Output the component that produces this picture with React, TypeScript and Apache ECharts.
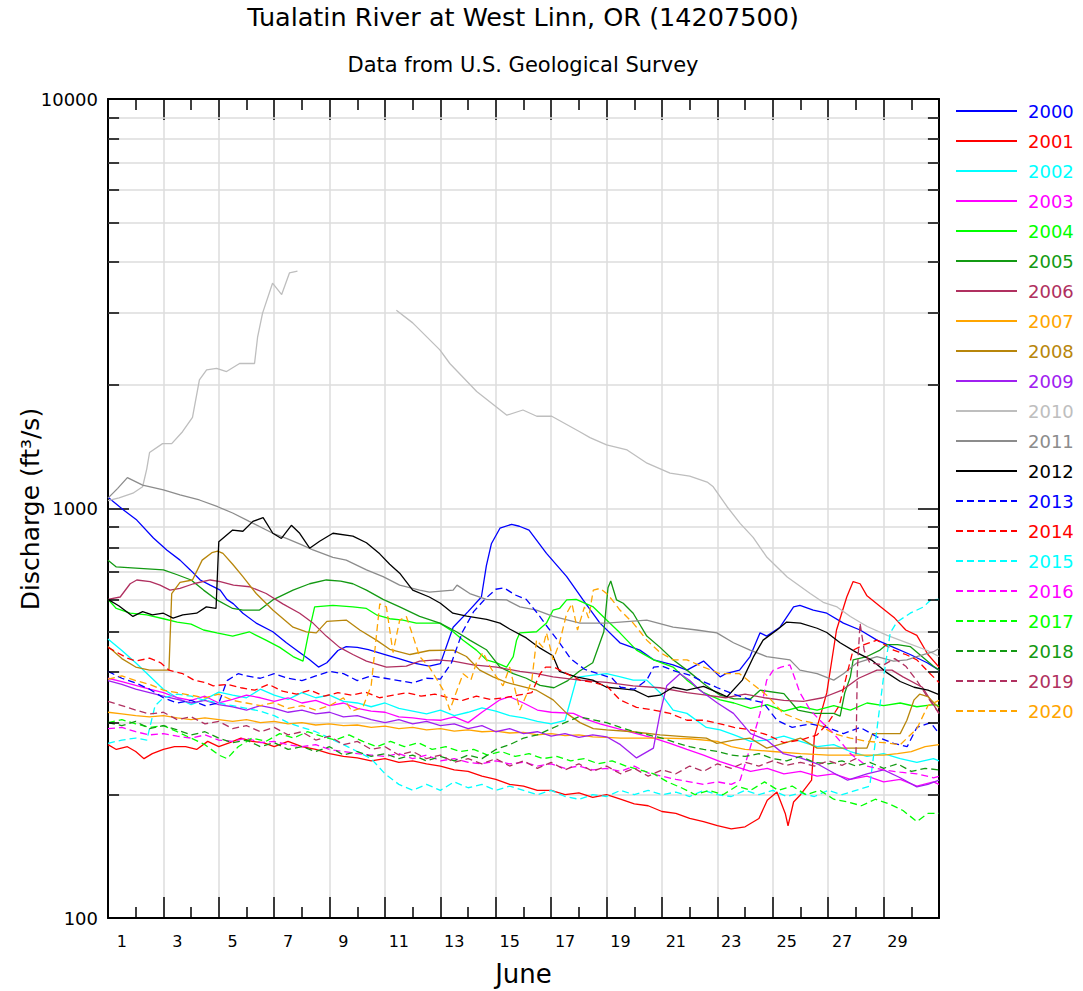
import React, { useEffect, useRef } from 'react';
import * as echarts from 'echarts';

const YEARS = ['2000','2001','2002','2003','2004','2005','2006','2007','2008','2009','2010','2011','2012','2013','2014','2015','2016','2017','2018','2019','2020'];
const COLORS = ['#0000ff','#ff0000','#00ffff','#ff00ff','#00ff00','#139a13','#b03060','#ffa500','#b8860b','#a020f0','#bebebe','#8c8c8c','#000000','#0000ff','#ff0000','#00ffff','#ff00ff','#00ff00','#139a13','#b03060','#ffa500'];
const DAY_LABELS = ['1','2','3','4','5','6','7','8','9','10','11','12','13','14','15','16','17','18','19','20','21','22','23','24','25','26','27','28','29','30'];
const MINOR_GRID = [200,300,400,500,600,700,800,900,2000,3000,4000,5000,6000,7000,8000,9000];

// [days since June 1 00:00, discharge ft3/s]
const q2000 = [[0,1065],[0.56,992],[1.04,937],[1.64,847],[2.12,792],[2.6,748],[2.97,708],[3.33,669],[3.69,650],[4.05,632],[4.29,600],[4.53,585],[4.87,555],[5.35,525],[5.95,500],[6.44,470],[6.92,445],[7.28,427],[7.6,410],[7.9,420],[8.3,450],[8.6,460],[9.0,458],[9.4,452],[10.0,440],[10.5,430],[11.0,420],[11.6,412],[12.0,418],[12.46,513],[13.0,560],[13.48,608],[13.66,725],[13.84,820],[14.15,895],[14.57,915],[14.85,905],[15.2,886],[15.83,777],[16.56,682],[17.15,598],[17.76,525],[18.48,470],[19.2,451],[19.7,427],[20.4,415],[20.9,403],[21.5,424],[22.1,388],[22.3,395],[22.8,403],[23.18,435],[23.54,497],[23.78,488],[24.26,513],[24.75,575],[24.98,580],[25.46,565],[25.95,555],[26.55,525],[27.15,505],[27.76,477],[28.36,458],[28.96,440],[29.57,420],[30,403]];
const q2001 = [[0,265],[0.3,258],[0.7,262],[1.0,255],[1.3,245],[1.6,252],[2,258],[2.4,262],[2.8,262],[3.2,258],[3.6,270],[4,262],[4.4,268],[4.8,275],[5.2,270],[5.6,268],[6,262],[6.5,270],[7,262],[7.5,258],[8,252],[8.5,248],[9,246],[9.5,242],[10,245],[10.5,240],[11,242],[11.5,238],[12,235],[12.5,230],[13,228],[13.5,222],[14,218],[14.5,212],[15,210],[15.5,205],[16,205],[16.5,200],[17,202],[17.5,197],[18,200],[18.5,195],[19,190],[19.5,188],[20,182],[20.5,180],[21,175],[21.5,172],[22,168],[22.5,165],[23,167],[23.5,175],[23.8,194],[24.15,203],[24.45,180],[24.55,168],[24.75,192],[25,200],[25.4,217],[25.5,277],[25.95,355],[26.3,505],[26.67,608],[26.9,663],[27.15,655],[27.4,612],[27.9,575],[28.4,540],[28.8,505],[29.2,490],[29.6,440],[30,410]];
const q2002 = [[0,480],[0.5,450],[1,420],[1.5,390],[2,362],[2.5,345],[3,332],[3.5,342],[4,356],[4.5,350],[5,345],[5.5,362],[6,350],[6.5,342],[7,355],[7.5,345],[8,350],[8.5,338],[9,335],[9.5,328],[10,335],[10.5,325],[11,320],[11.5,315],[12,322],[12.5,312],[13,318],[13.5,326],[14,320],[14.5,312],[15,308],[15.5,302],[16,298],[16.5,304],[16.75,350],[16.9,381],[17.04,388],[17.5,392],[18,395],[18.5,388],[18.96,381],[19.45,381],[19.93,355],[20.4,322],[20.9,316],[21.6,292],[22.1,288],[22.6,280],[23.2,270],[23.8,272],[24.4,278],[25,270],[25.6,262],[26.2,265],[26.8,255],[27.4,248],[28,252],[28.6,245],[29.2,240],[29.8,245],[30,242]];
const q2003 = [[0,385],[0.5,378],[1,370],[1.5,362],[2,355],[2.5,345],[3,340],[3.5,348],[4,335],[4.5,342],[5,350],[5.5,345],[6,338],[6.5,345],[7,335],[7.5,340],[8,330],[8.5,335],[9,325],[9.5,320],[10,318],[10.5,310],[11,308],[11.5,305],[12,304],[12.5,310],[13,300],[13.5,318],[14.15,341],[14.5,347],[15,335],[15.5,322],[16,318],[16.8,316],[17.3,305],[17.76,298],[18.4,290],[19.08,282],[19.7,275],[20.29,267],[20.9,258],[21.5,250],[22.1,241],[22.6,235],[23.2,228],[23.8,232],[24.4,225],[25,228],[25.6,222],[26.2,225],[26.8,218],[27.4,222],[28,215],[28.6,218],[29.2,210],[29.8,215],[30,212]];
const q2004 = [[0,600],[0.3,570],[0.8,555],[1.4,550],[2,538],[2.5,528],[3,522],[3.45,505],[3.93,497],[4.5,488],[5.1,500],[5.7,477],[6.2,458],[6.68,435],[7.04,424],[7.22,488],[7.46,575],[8.12,580],[8.84,575],[9.33,570],[9.69,550],[10.17,538],[10.65,534],[11.13,525],[11.6,525],[11.98,525],[12.46,500],[12.82,477],[13.3,451],[13.66,427],[14.03,420],[14.39,410],[14.63,435],[14.75,477],[14.87,497],[15.47,500],[15.83,525],[16.07,565],[16.3,570],[16.56,598],[16.9,600],[17.52,575],[18,534],[18.48,497],[19.08,451],[19.7,427],[20.4,410],[20.9,381],[21.5,355],[22.1,341],[22.6,335],[23.2,325],[23.8,332],[24.4,320],[25,328],[25.6,322],[26.2,330],[26.8,322],[27.4,335],[28,330],[28.6,335],[29.2,328],[29.8,332],[30,330]];
const q2005 = [[0,748],[0.3,720],[1,715],[2,708],[2.5,689],[3,669],[3.45,632],[3.93,598],[4.5,570],[4.87,565],[5.47,565],[5.95,598],[6.68,632],[7.28,655],[7.88,669],[8.4,665],[8.84,655],[9.33,632],[9.93,600],[10.53,575],[11.25,545],[11.98,525],[12.58,500],[13.06,477],[13.66,452],[14.15,410],[14.63,395],[15.1,385],[15.6,370],[16.1,365],[16.6,380],[17.0,400],[17.5,420],[17.9,500],[18.05,640],[18.15,665],[18.36,598],[18.6,587],[18.96,555],[19.45,488],[19.93,458],[20.4,427],[20.9,403],[21.6,369],[22.1,350],[22.6,343],[23.2,343],[23.54,360],[24.4,353],[24.9,322],[25.5,316],[26.2,316],[26.43,311],[26.6,355],[26.8,388],[26.9,427],[27.4,435],[27.87,451],[28.1,465],[28.5,465],[28.96,460],[29.3,440],[29.8,412],[30,403]];
const q2006 = [[0,600],[0.44,608],[0.8,655],[1.04,669],[1.52,663],[1.88,650],[2.24,632],[2.6,638],[3.09,655],[3.69,669],[4.05,663],[4.53,650],[5.11,644],[5.71,620],[6.31,585],[6.92,555],[7.4,525],[7.88,488],[8.36,458],[8.84,440],[9.33,424],[10.05,410],[10.77,412],[11.25,424],[11.86,427],[12.46,424],[13.18,415],[14.03,410],[14.87,400],[15.47,395],[16.07,388],[17.04,381],[18,376],[18.96,369],[19.93,365],[20.9,355],[21.6,350],[22.3,345],[23,352],[23.7,345],[24.4,340],[25.1,338],[25.8,345],[26.5,360],[27.1,385],[27.76,403],[28.3,403],[28.7,388],[29.4,366],[29.8,332],[30,316]];
const q2007 = [[0,318],[0.5,315],[1,312],[1.5,310],[2,312],[2.5,308],[3,305],[3.5,308],[4,305],[4.5,302],[5,305],[5.5,300],[6,302],[6.5,298],[7,300],[7.5,296],[8,298],[8.5,295],[9,296],[9.5,292],[10,294],[10.5,290],[11,292],[11.5,288],[12,290],[12.5,286],[13,288],[13.5,285],[14,286],[14.5,283],[15,284],[15.5,280],[16,282],[16.5,279],[17,280],[17.5,277],[18,276],[18.5,275],[19,275],[20,275],[21,274],[22,270],[22.5,262],[23,258],[24,255],[25,252],[26,250],[27,250],[28,250],[28.5,252],[29,255],[29.5,262],[30,265]];
const q2008 = [[0,460],[0.5,430],[1,410],[1.5,403],[2,403],[2.2,403],[2.3,620],[2.6,660],[3.05,669],[3.4,748],[3.75,780],[3.96,787],[4.15,777],[4.5,731],[4.87,682],[5.35,620],[5.95,565],[6.68,513],[7.16,500],[7.52,497],[7.9,530],[8.6,534],[9.09,505],[9.69,477],[10.17,453],[10.9,440],[11.6,450],[12.46,451],[12.94,435],[13.42,403],[13.9,388],[14.39,376],[14.87,369],[15.47,360],[16.07,341],[16.56,316],[17.04,300],[17.52,290],[18,288],[18.96,285],[19.93,280],[20.9,277],[21.6,275],[21.98,267],[22.6,272],[23.18,275],[23.78,260],[24.38,267],[25,275],[25.6,260],[26.18,260],[27.4,260],[27.6,282],[28.6,282],[28.84,304],[29.1,341],[29.3,352],[29.6,347],[30,326]];
const q2009 = [[0,380],[0.5,372],[1,362],[1.5,355],[2,348],[2.5,342],[3,335],[3.5,340],[4,332],[4.5,328],[5,322],[5.5,330],[6,325],[6.5,318],[7,322],[7.5,315],[8,318],[8.5,310],[9,312],[9.5,305],[10,300],[10.5,305],[11,298],[11.5,302],[12,295],[12.5,298],[13,290],[13.5,295],[14,285],[14.5,290],[15,282],[15.5,285],[16,278],[16.5,282],[17,276],[17.5,280],[18,277],[18.5,265],[19.08,246],[19.69,260],[19.93,316],[20.17,369],[20.65,395],[21,380],[21.37,360],[22,335],[22.58,316],[23.2,282],[23.78,272],[24.38,252],[25,246],[25.6,238],[26.2,226],[26.7,217],[27.4,225],[28,230],[28.6,220],[29.2,209],[29.6,212],[30,217]];
const q2010 = [[0,1045],[0.4,1062],[0.9,1090],[1.25,1130],[1.4,1250],[1.5,1370],[1.97,1440],[2.3,1440],[2.69,1540],[3.05,1670],[3.3,2060],[3.56,2180],[3.92,2200],[4.28,2160],[4.75,2260],[5.29,2260],[5.4,2620],[5.58,3000],[5.94,3550],[6.27,3330],[6.55,3760],[6.84,3800],[8.6,null],[10.41,3050],[11.0,2840],[11.98,2440],[12.34,2260],[13.31,1930],[14.4,1690],[14.98,1740],[15.48,1680],[16.02,1680],[17.03,1540],[17.4,1490],[18.0,1430],[18.74,1390],[19.46,1290],[20.29,1220],[21.0,1200],[21.63,1160],[21.85,1130],[22.35,1010],[22.82,920],[23.29,850],[23.79,760],[24.52,680],[25.35,620],[25.82,590],[26.32,575],[26.8,545],[27.41,515],[28.13,490],[28.85,470],[29.58,450],[30,435]];
const q2011 = [[0,1060],[0.35,1120],[0.7,1190],[1.25,1140],[2,1110],[2.6,1080],[3.3,1049],[3.96,1010],[4.5,975],[5.1,930],[5.95,870],[6.44,845],[7,815],[7.4,792],[8.12,760],[8.6,748],[9.33,708],[9.93,682],[10.53,650],[11.25,632],[11.6,625],[12.46,632],[12.6,650],[13.06,620],[13.66,600],[14.39,598],[14.87,575],[15.47,565],[16.07,545],[17.04,525],[18,525],[19.45,534],[20.4,513],[21.25,505],[21.98,497],[22.58,470],[23.18,451],[23.78,435],[24.62,427],[24.98,403],[25.6,395],[26.2,381],[26.55,395],[27.04,420],[27.76,435],[28.36,424],[28.84,427],[29.2,435],[29.8,447],[30,455]];
const q2012 = [[0,600],[0.4,578],[0.9,545],[1.25,560],[1.6,550],[2,555],[2.35,540],[2.7,550],[3.2,555],[3.55,575],[3.9,570],[4.0,830],[4.5,886],[4.87,880],[5.23,930],[5.6,950],[5.95,870],[6.26,845],[6.62,910],[6.92,870],[7.28,800],[7.64,832],[8.12,870],[8.84,856],[9.33,825],[9.81,775],[10.17,731],[10.53,695],[11.0,632],[11.6,608],[12,587],[12.45,555],[12.95,546],[13.67,536],[14.15,525],[14.5,508],[15.1,483],[15.6,456],[16.06,437],[16.3,400],[16.9,388],[17.5,381],[18,366],[18.5,363],[19,360],[19.5,347],[19.93,350],[20.4,366],[20.9,360],[21.5,368],[22.1,353],[22.35,347],[22.9,381],[23.3,434],[23.65,477],[24.15,505],[24.5,528],[25,525],[25.6,510],[25.95,498],[26.43,470],[27,446],[27.6,425],[28.1,398],[28.6,378],[29.1,366],[29.6,360],[30,351]];
const q2013 = [[0,400],[0.5,385],[1,375],[1.5,362],[2,345],[2.5,335],[3,340],[3.5,330],[4,335],[4.3,380],[4.7,395],[5,390],[5.5,385],[6,395],[6.5,385],[7,380],[7.5,390],[8,400],[8.5,395],[9,380],[9.5,390],[10,385],[10.5,380],[11,375],[11.5,385],[12,383],[12.4,420],[12.8,500],[13.2,560],[13.6,600],[14,635],[14.3,640],[14.7,615],[15.1,600],[15.5,555],[15.9,510],[16.3,470],[16.7,430],[17.2,405],[17.7,395],[18.2,385],[18.5,366],[19,362],[19.45,381],[19.7,410],[20,412],[20.5,400],[21,392],[21.37,381],[22,365],[22.6,352],[23.2,341],[23.65,336],[24.15,304],[24.7,292],[25.35,298],[25.96,292],[26.55,282],[27.15,292],[27.76,277],[28.36,267],[28.85,262],[29.2,292],[29.7,300],[30,282]];
const q2014 = [[0,458],[0.7,431],[1.0,424],[1.5,431],[1.9,420],[2.2,403],[2.7,395],[3.1,381],[3.5,376],[3.8,369],[4.3,372],[4.8,365],[5.3,360],[5.8,372],[6.3,358],[6.8,352],[7.3,360],[7.8,348],[8.3,355],[8.8,350],[9.3,356],[9.8,345],[10.3,350],[10.8,355],[11.3,348],[11.8,352],[12.3,345],[12.8,340],[13.3,348],[13.8,342],[14.3,345],[14.8,350],[15.3,355],[15.6,395],[15.8,410],[16.1,410],[16.56,395],[17.04,381],[17.52,376],[18,369],[18.48,341],[19.08,327],[19.69,322],[20.29,316],[20.9,304],[21.5,304],[22.1,298],[22.6,292],[23.2,288],[23.8,280],[24.4,268],[25,272],[25.6,280],[26.0,300],[26.4,330],[26.7,400],[26.9,451],[27.3,465],[27.76,477],[28.36,451],[28.8,440],[29.2,427],[29.6,400],[30,376]];
const q2015 = [[0,267],[0.5,272],[1,275],[1.4,272],[1.7,330],[2,345],[2.5,352],[3,348],[3.5,340],[4,335],[4.5,330],[5,325],[5.5,320],[6,312],[6.5,300],[7,292],[7.5,285],[8,275],[8.5,265],[9,255],[9.5,245],[10,225],[10.5,212],[11,205],[11.5,212],[12,205],[12.5,215],[13,208],[13.5,212],[14,205],[14.5,210],[15,205],[15.5,200],[16,205],[16.5,198],[17,195],[17.5,200],[18,198],[18.5,205],[19,200],[19.5,205],[20,200],[20.5,203],[21,198],[21.5,205],[22,200],[22.5,198],[23,205],[23.5,200],[24,205],[24.5,198],[25,202],[25.5,198],[26,205],[26.5,200],[27,205],[27.5,210],[27.8,304],[28,388],[28.24,497],[28.48,528],[28.96,555],[29.44,575],[29.7,598],[30,600]];
const q2016 = [[0,290],[0.5,292],[1,285],[1.5,280],[2,282],[2.5,278],[3,275],[3.5,280],[4,272],[4.5,270],[5,275],[5.5,268],[6,270],[6.5,265],[7,262],[7.5,265],[8,258],[8.5,255],[9,252],[9.5,250],[10,248],[10.5,252],[11,245],[11.5,250],[12,242],[12.5,245],[13,240],[13.5,238],[14,242],[14.5,238],[15,240],[15.5,235],[16,238],[16.5,232],[17,235],[17.5,230],[18,232],[18.5,228],[19,235],[19.5,226],[20,222],[20.5,218],[21,215],[21.5,212],[22,215],[22.5,212],[22.82,217],[23.18,260],[23.54,316],[23.78,381],[24.02,403],[24.3,410],[24.62,415],[24.98,355],[25.35,322],[25.7,304],[26.2,282],[26.8,252],[27.4,235],[28,230],[28.6,227],[29.2,225],[29.8,220],[30,222]];
const q2017 = [[0,300],[0.5,305],[1,298],[1.5,292],[2,295],[2.5,285],[3,275],[3.5,265],[4,250],[4.3,245],[4.7,262],[5.2,275],[5.7,270],[6.2,282],[6.7,275],[7.2,285],[7.7,278],[8.2,272],[8.7,280],[9.2,270],[9.7,262],[10.2,270],[10.7,262],[11.2,268],[11.7,258],[12.2,262],[12.7,255],[13.2,258],[13.7,250],[14.2,255],[14.7,248],[15.2,252],[15.7,245],[16.2,248],[16.7,242],[17.2,245],[17.7,238],[18.2,242],[18.7,235],[19.2,230],[19.7,225],[20.2,215],[20.7,208],[21.2,200],[21.7,205],[22.2,200],[22.7,210],[23.2,205],[23.7,215],[24.2,205],[24.7,210],[25.2,200],[25.7,205],[26.2,195],[26.7,192],[27.2,188],[27.7,195],[28.2,190],[28.7,183],[29.2,172],[29.6,180],[30,180]];
const q2018 = [[0,300],[0.5,295],[1,302],[1.5,290],[2,295],[2.5,288],[3,280],[3.5,285],[4,275],[4.5,268],[5,272],[5.5,262],[6,268],[6.5,258],[7,262],[7.5,255],[8,262],[8.5,250],[9,255],[9.5,248],[10,252],[10.5,245],[11,250],[11.5,242],[12,248],[12.5,242],[13,250],[13.5,245],[14,258],[14.5,265],[15,275],[15.5,280],[16,290],[16.5,300],[17,310],[17.5,305],[18,300],[18.5,292],[19,285],[19.5,280],[20,275],[20.5,268],[21,262],[21.5,258],[22,255],[22.5,250],[23,248],[23.5,252],[24,245],[24.5,242],[25,248],[25.5,240],[26,238],[26.5,242],[27,235],[27.5,240],[28,232],[28.5,238],[29,228],[29.5,232],[30,230]];
const q2019 = [[0,338],[0.5,330],[1,322],[1.5,315],[2,318],[2.5,305],[3,310],[3.5,298],[4,302],[4.5,290],[5,295],[5.5,285],[6,292],[6.5,280],[7,285],[7.5,272],[8,278],[8.5,265],[9,270],[9.5,258],[10,262],[10.5,250],[11,255],[11.5,245],[12,250],[12.5,240],[13,245],[13.5,238],[14,245],[14.5,235],[15,242],[15.5,232],[16,240],[16.5,230],[17,238],[17.5,228],[18,235],[18.5,225],[19,232],[19.5,222],[20,230],[20.5,225],[21,235],[21.5,228],[22,238],[22.5,232],[23,240],[23.5,235],[24,242],[24.5,236],[25,240],[25.5,235],[26,242],[26.5,236],[27,245],[27.05,400],[27.15,525],[27.3,450],[27.5,420],[28,415],[28.4,430],[28.8,412],[29.2,380],[29.6,345],[30,316]];
const q2020 = [[0,383],[0.5,390],[1,380],[1.5,372],[2,360],[2.5,355],[3,350],[3.5,345],[4,352],[4.5,340],[5,335],[5.5,330],[6,336],[6.5,325],[7,330],[7.5,322],[8,330],[8.5,345],[8.8,320],[9.2,327],[9.5,369],[9.81,585],[10.05,575],[10.29,445],[10.53,534],[10.77,545],[11.01,488],[11.25,435],[11.6,410],[11.9,380],[12.1,360],[12.34,322],[12.6,360],[12.82,395],[13.1,381],[13.3,420],[13.54,445],[13.8,410],[14.0,390],[14.26,369],[14.5,410],[14.7,360],[14.87,322],[15.1,350],[15.3,381],[15.47,477],[15.7,458],[15.83,497],[16.07,427],[16.3,470],[16.56,555],[16.75,585],[16.95,505],[17.2,575],[17.35,540],[17.52,632],[17.76,638],[18,620],[18.2,598],[18.48,565],[18.96,525],[19.45,477],[19.93,445],[20.4,427],[20.9,427],[21.5,410],[22.1,395],[22.8,395],[23.2,376],[23.78,350],[24.38,316],[25,304],[25.6,298],[26.2,282],[26.8,275],[27.4,270],[28,268],[28.6,265],[29.2,290],[29.6,330],[30,340]];

const SERIES_DATA = [q2000,q2001,q2002,q2003,q2004,q2005,q2006,q2007,q2008,q2009,q2010,q2011,q2012,q2013,q2014,q2015,q2016,q2017,q2018,q2019,q2020];

const FONT = 'DejaVu Sans';
const GRID_COLOR = '#dcdcdc';
const TICK_D = 0.4;

export default function App() {
  const ref = useRef<HTMLDivElement>(null);
  useEffect(() => {
    if (!ref.current) return;
    const chart = echarts.init(ref.current, null, { renderer: 'svg' });
    const axisLine = { show: true, onZero: false, lineStyle: { color: '#000', width: 2 } };
    const majorTick = { show: true, inside: true, length: 21, lineStyle: { color: '#000', width: 1.5 } };
    const minorTick = { show: true, splitNumber: 2, length: 11, lineStyle: { color: '#000', width: 1.5 } };
    const dataSeries = YEARS.map((y, i) => ({
      name: y,
      type: 'line',
      data: SERIES_DATA[i],
      xAxisIndex: 0,
      yAxisIndex: 0,
      symbol: 'none',
      showSymbol: false,
      connectNulls: false,
      silent: true,
      z: 3,
      lineStyle: { color: COLORS[i], width: 1.3, type: i >= 13 ? [7, 4] : 'solid' },
      itemStyle: { color: COLORS[i] },
      emphasis: { disabled: true },
    }));
    const option = {
      animation: false,
      backgroundColor: '#ffffff',
      textStyle: { fontFamily: FONT, color: '#000' },
      title: [
        { text: 'Tualatin River at West Linn, OR (14207500)', left: 523, top: 4, padding: 0, textAlign: 'center',
          textStyle: { fontSize: 25.5, fontWeight: 'normal', color: '#000', fontFamily: FONT } },
        { text: 'Data from U.S. Geological Survey', left: 523, top: 54, padding: 0, textAlign: 'center',
          textStyle: { fontSize: 21, fontWeight: 'normal', color: '#000', fontFamily: FONT } },
      ],
      legend: {
        orient: 'vertical', left: 950, top: 97, itemWidth: 61, itemHeight: 14, itemGap: 12,
        selectedMode: false,
        itemStyle: { opacity: 0 },
        textStyle: { fontSize: 18, fontFamily: FONT, padding: [0, 0, 0, 6] },
        data: YEARS.map((y, i) => ({ name: y, textStyle: { color: COLORS[i] } })),
      },
      grid: { left: 108, top: 99, width: 831, height: 819, containLabel: false, outerBoundsMode: 'none' },
      xAxis: [
        { type: 'value', min: 0, max: 30, interval: 2, position: 'bottom',
          axisLine, axisTick: majorTick, minorTick, axisLabel: { show: false },
          splitLine: { show: true, lineStyle: { color: GRID_COLOR, width: 1.5 } },
          name: 'June', nameLocation: 'middle', nameGap: 43,
          nameTextStyle: { fontSize: 26, color: '#000', fontFamily: FONT } },
        { type: 'value', min: 0, max: 30, interval: 2, position: 'top',
          axisLine, axisTick: majorTick, minorTick, axisLabel: { show: false }, splitLine: { show: false } },
        { type: 'category', data: DAY_LABELS, position: 'bottom', boundaryGap: true,
          axisLine: { show: false }, axisTick: { show: false }, splitLine: { show: false },
          axisLabel: { interval: 1, margin: 15, fontSize: 16, color: '#000', fontFamily: FONT } },
      ],
      yAxis: [
        { type: 'log', logBase: 10, min: 100, max: 10000, position: 'left',
          axisLine, axisTick: majorTick,
          axisLabel: { fontSize: 18, color: '#000', margin: 10, fontFamily: FONT, formatter: (v: number) => String(v) },
          splitLine: { show: true, lineStyle: { color: GRID_COLOR, width: 1.5 } } },
        { type: 'log', logBase: 10, min: 100, max: 10000, position: 'right',
          axisLine, axisTick: majorTick, axisLabel: { show: false }, splitLine: { show: false } },
      ],
      graphic: [
        { type: 'text', x: 30, y: 509, rotation: Math.PI / 2,
          style: { text: 'Discharge (ft³/s)', fontSize: 25, fontFamily: FONT, fill: '#000',
            align: 'center', verticalAlign: 'middle', textAlign: 'center', textVerticalAlign: 'middle' } },
      ],
      series: [
        { name: 'gridlines', type: 'line', data: [], silent: true, z: 1,
          markLine: { silent: true, z: 1, symbol: ['none', 'none'], label: { show: false }, emphasis: { disabled: true },
            lineStyle: { color: GRID_COLOR, width: 1.5, type: 'solid' },
            data: MINOR_GRID.map((v) => [{ coord: [0, v] }, { coord: [30, v] }]) } },
        ...dataSeries,
        { name: 'minorticks', type: 'line', data: [], silent: true, z: 10,
          markLine: { silent: true, z: 10, symbol: ['none', 'none'], label: { show: false }, emphasis: { disabled: true },
            lineStyle: { color: '#000', width: 1.5, type: 'solid' },
            data: [
              ...MINOR_GRID.map((v) => [{ coord: [0, v] }, { coord: [TICK_D, v] }]),
              ...MINOR_GRID.map((v) => [{ coord: [30 - TICK_D, v] }, { coord: [30, v] }]),
            ] } },
      ],
    };
    chart.setOption(option as any);
    return () => chart.dispose();
  }, []);
  return <div ref={ref} style={{ position: 'fixed', left: 0, top: 0, width: 1083, height: 991, background: '#fff' }} />;
}
